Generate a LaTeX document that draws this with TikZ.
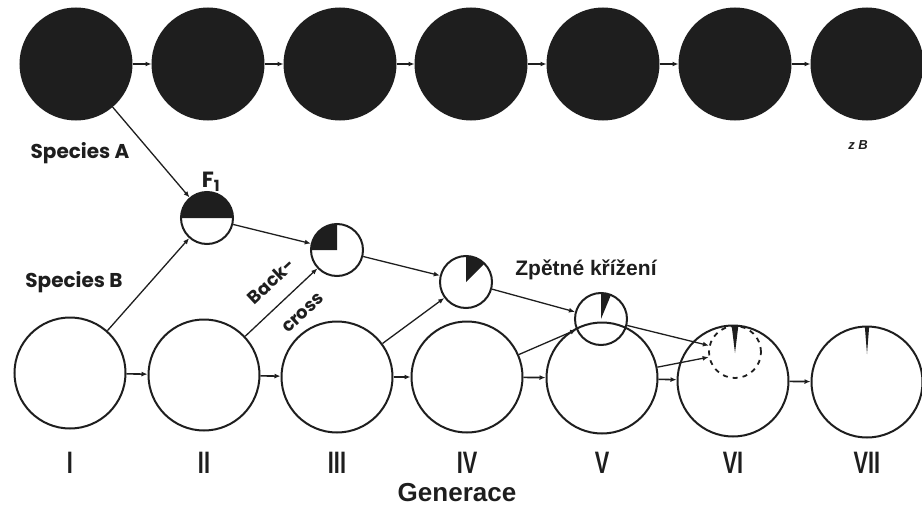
\documentclass[tikz,border=0pt]{standalone}
\usepackage{fontspec}
\setmainfont{Liberation Sans}
\newfontfamily\geo{Poppins}
\usetikzlibrary{arrows.meta}
\definecolor{ink}{HTML}{1E1E1E}
\begin{document}
\begin{tikzpicture}[x=1pt,y=-1pt,
  big/.style={circle,draw=ink,line width=2pt,minimum size=111pt,inner sep=0pt},
  dark/.style={big,fill=ink},
  small/.style={circle,draw=ink,line width=2pt,minimum size=52pt,inner sep=0pt},
  dashc/.style={circle,draw=ink,line width=1.8pt,dash pattern=on 5pt off 5pt,minimum size=52pt,inner sep=0pt},
  arr/.style={draw=ink,line width=1.3pt,-{Latex[length=6pt,width=5pt]}},
  harr/.style={draw=ink,line width=1.6pt,-{Latex[length=6pt,width=5pt]}},
  lbl/.style={font=\geo\bfseries\fontsize{20}{24}\selectfont,text=ink,inner sep=0pt},
  num/.style={font=\bfseries\fontsize{31}{34}\selectfont,text=ink,inner sep=0pt},
  wedge/.style={fill=ink}]
\useasboundingbox (0,0) rectangle (922,506);

% wedges (filled parts of small circles)
\fill[wedge] (207,218) -- ++(0:26) arc[start angle=0,end angle=-180,radius=26] -- cycle;
\fill[wedge] (337,250) -- ++(-90:26) arc[start angle=-90,end angle=-180,radius=26] -- cycle;
\fill[wedge] (466,282) -- ++(-45:26) arc[start angle=-45,end angle=-90,radius=26] -- cycle;
\fill[wedge] (601,319) -- ++(-67.5:26) arc[start angle=-67.5,end angle=-90,radius=26] -- cycle;
\fill[wedge] (735,353) -- ++(-83:27) arc[start angle=-83,end angle=-97,radius=27] -- cycle;
\fill[wedge] (867,354) -- ++(-85.5:28) arc[start angle=-85.5,end angle=-94.5,radius=28] -- cycle;

% top row (species A)
\node[dark] (T1) at (76,64) {};
\node[dark] (T2) at (208,64) {};
\node[dark] (T3) at (340,64) {};
\node[dark] (T4) at (471,64) {};
\node[dark] (T5) at (603,64) {};
\node[dark] (T6) at (735,64) {};
\node[dark] (T7) at (867,64) {};

% bottom row (species B)
\node[big] (B1) at (70,373) {};
\node[big] (B2) at (204,375) {};
\node[big] (B3) at (337,377) {};
\node[big] (B4) at (467,377) {};
\node[big] (B5) at (602,378) {};
\node[big] (B6) at (733,381) {};
\node[big] (B7) at (867,382) {};

% hybrids
\node[small] (F1) at (207,218) {};
\node[small] (S2) at (337,250) {};
\node[small] (S3) at (466,282) {};
\node[small] (S4) at (601,319) {};
\node[dashc] (D) at (735,352) {};

% connectors
\foreach \a/\b in {1/2,2/3,3/4,4/5,5/6,6/7} {
  \draw[harr] (T\a) -- (T\b);
  \draw[harr] (B\a) -- (B\b);
}
\draw[arr] (T1) -- (F1);
\draw[arr] (B1) -- (F1);
\draw[arr] (F1) -- (S2);
\draw[arr] (B2) -- (S2);
\draw[arr] (S2) -- (S3);
\draw[arr] (B3) -- (S3);
\draw[arr] (S3) -- (S4);
\draw[arr] (B4) -- (S4);
\draw[arr] (S4) -- (D);
\draw[arr] (B5) -- (D);

% labels
\node[lbl] (la) at (80,153) {Species A};
\node[lbl] (lb) at (74,282) {Species B};
\node[lbl,font=\geo\bfseries\fontsize{22}{24}\selectfont] (lf) at (211,182) {F\textsubscript{1}};
\node[lbl,font=\geo\bfseries\fontsize{18}{20}\selectfont,rotate=43] (lback) at (271,281) {Back-};
\node[lbl,font=\geo\bfseries\fontsize{18}{20}\selectfont,rotate=43] (lcross) at (303,313) {cross};
\node[font=\bfseries\fontsize{21}{24}\selectfont,text=ink,inner sep=0pt] (lz) at (586,270) {Zpětné křížení};
\node[font=\itshape\bfseries\fontsize{13}{14}\selectfont,text=ink,inner sep=0pt] (lm) at (858,145) {z B};

\node[num] (n1) at (70,463) {\scalebox{0.7}[1]{I}};
\node[num] (n2) at (204,463) {\scalebox{0.7}[1]{II}};
\node[num] (n3) at (337,463) {\scalebox{0.7}[1]{III}};
\node[num] (n4) at (467,463) {\scalebox{0.7}[1]{IV}};
\node[num] (n5) at (602,463) {\scalebox{0.7}[1]{V}};
\node[num] (n6) at (733,463) {\scalebox{0.7}[1]{VI}};
\node[num] (n7) at (867,463) {\scalebox{0.7}[1]{VII}};
\node[font=\bfseries\fontsize{26}{30}\selectfont,text=ink,inner sep=0pt] (gen) at (457,493) {Generace};
\end{tikzpicture}
\end{document}
